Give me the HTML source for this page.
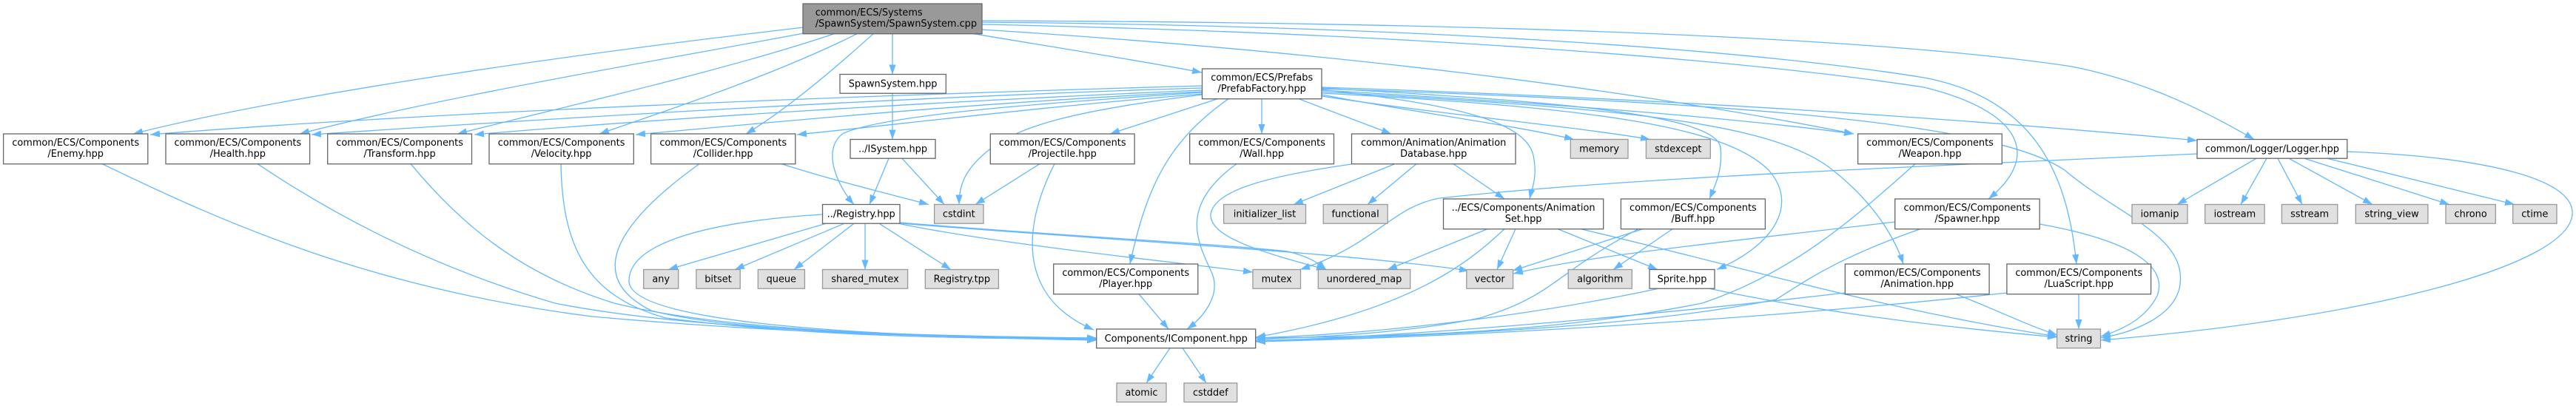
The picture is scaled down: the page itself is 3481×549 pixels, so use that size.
<!DOCTYPE html>
<html><head><meta charset="utf-8"><style>
html,body{margin:0;padding:0;background:#fff;}
svg{display:block;}
text{font-family:"DejaVu Sans","Liberation Sans",sans-serif;font-size:12.9px;fill:#000;}
.e{fill:none;stroke:#63b8ff;stroke-width:1.3;}
.w{fill:#fff;stroke:#666;stroke-width:1.3;}
.g{fill:#e0e0e0;stroke:#999;stroke-width:1.3;}
.r{fill:#999;stroke:#666;stroke-width:1.3;}
</style></head><body>
<svg width="3481" height="549" viewBox="0 0 3481 549" xmlns="http://www.w3.org/2000/svg">
<defs><marker id="a" markerWidth="14" markerHeight="10" refX="13" refY="4.6" orient="auto" markerUnits="userSpaceOnUse"><path d="M0,0 L13,4.6 L0,9.2 z" fill="#63b8ff"/></marker></defs>
<g class="e" marker-end="url(#a)">
<path d="M1206,45.7 L1206,100.5"/>
<path d="M1316,45.7 C1400,60 1530,80 1624,98"/>
<path d="M1086,37 C800,70 400,125 180,181"/>
<path d="M1086,45 C900,80 600,130 405,181"/>
<path d="M1127,45.7 C980,95 780,140 618,181"/>
<path d="M1158,45.7 C1060,95 930,140 810,181"/>
<path d="M1180,45.7 C1120,100 1060,150 1008,181"/>
<path d="M1327,28 C1900,30 2500,45 2800,90 C2900,110 2980,150 3046,188.5"/>
<path d="M1327,30 C1900,35 2350,65 2600,105 C2760,135 2795,250 2806,357"/>
<path d="M1327,33 C1900,45 2350,80 2600,118 C2730,150 2760,210 2687,269"/>
<path d="M1327,40 C1800,70 2200,120 2505,181"/>
<path d="M1624,116 C1200,128 600,150 203,182"/>
<path d="M1624,119 C1200,132 750,160 421,182"/>
<path d="M1624,122 C1250,138 900,160 641,182"/>
<path d="M1624,124 C1300,140 1050,165 859,182"/>
<path d="M1624,127 C1400,145 1200,170 1077,182"/>
<path d="M1624,125 C1400,140 1200,155 1140,180 C1110,200 1130,250 1154,276.5"/>
<path d="M1624,128 C1450,150 1380,170 1340,200 C1300,230 1296,255 1296,276.5"/>
<path d="M1645,133.7 L1500,181"/>
<path d="M1660,133.7 C1580,190 1550,250 1527,357"/>
<path d="M1705,133.7 L1705,181"/>
<path d="M1755,133.7 L1880,181"/>
<path d="M1786,121 C1950,140 2060,160 2072,210 C2078,240 2070,255 2067,269"/>
<path d="M1786,128 C1900,150 2050,170 2127,188.5"/>
<path d="M1786,130 C1950,155 2120,170 2230,188.5"/>
<path d="M1786,119 C2050,135 2320,150 2325,200 C2328,230 2318,250 2310,269"/>
<path d="M1786,122 C2100,140 2350,160 2505,181"/>
<path d="M1786,124 C2150,145 2380,160 2470,225 C2530,270 2560,320 2572,357"/>
<path d="M1786,126 C2150,145 2330,170 2390,230 C2430,275 2400,330 2320,364.5"/>
<path d="M1786,118 C2300,135 2700,165 2969,190"/>
<path d="M1786,120 C2400,140 2700,170 2790,230 C2860,290 2960,320 2945,390 C2935,430 2880,450 2839,457"/>
<path d="M3049,214.2 L2942,276.5"/>
<path d="M3063,214.2 L3028,276.5"/>
<path d="M3078,214.2 L3111,276.5"/>
<path d="M3093,214.2 L3206,276.5"/>
<path d="M3114,214.2 L3310,276.5"/>
<path d="M3145,214.2 L3398,276.5"/>
<path d="M3172,205 C3350,212 3480,240 3476,290 C3470,360 3200,430 2839,460"/>
<path d="M2969,208 C2600,225 2200,240 1945,268 C1880,280 1860,330 1757,364.5"/>
<path d="M1206,126.2 L1206,188.5"/>
<path d="M1201,214.2 L1175,276.5"/>
<path d="M1219,214.2 L1276,276.5"/>
<path d="M1056,221.6 C1130,245 1200,262 1255,276.5"/>
<path d="M945,221.6 C850,290 780,370 880,420 C1000,452 1300,455 1482,460"/>
<path d="M138,221.6 C300,300 500,390 800,428 C1100,455 1350,456 1482,458"/>
<path d="M348,221.6 C450,290 580,360 750,410 C950,450 1300,455 1482,457"/>
<path d="M555,221.6 C620,300 700,370 830,410 C1000,452 1300,456 1482,458"/>
<path d="M758,221.6 C760,330 790,400 900,430 C1100,456 1300,457 1482,459"/>
<path d="M1111,290 C950,300 850,330 850,380 C850,440 1200,455 1482,460"/>
<path d="M1116,302.2 L903,364.5"/>
<path d="M1141,302.2 L993,364.5"/>
<path d="M1154,302.2 L1073,364.5"/>
<path d="M1169,302.2 L1169,364.5"/>
<path d="M1188,302.2 L1285,364.5"/>
<path d="M1214,302.2 C1350,330 1550,350 1693,368"/>
<path d="M1216,301 C1450,320 1650,330 1740,340 C1765,346 1780,354 1792,364.5"/>
<path d="M1216,302 C1500,325 1800,340 1985,366"/>
<path d="M1405,221.6 L1318,276.5"/>
<path d="M1425,221.6 C1385,300 1370,400 1478,446"/>
<path d="M1539,397.6 L1579,445"/>
<path d="M1671,221.6 C1590,280 1620,330 1638,370 C1650,400 1625,430 1604,445"/>
<path d="M1885,221.6 L1748,276.5"/>
<path d="M1914,221.6 L1848,276.5"/>
<path d="M1964,221.6 L2033,269"/>
<path d="M1826,222 C1700,240 1640,260 1636,290 C1635,320 1700,340 1792,364.5"/>
<path d="M2010,309.6 L1875,364.5"/>
<path d="M2033,309.6 C1980,360 1900,420 1697,456"/>
<path d="M2048,309.6 L2023,364.5"/>
<path d="M2105,309.6 L2240,364.5"/>
<path d="M2136,309.6 C2350,360 2550,420 2780,455"/>
<path d="M2220,309.6 L2044,366"/>
<path d="M2214,309.6 C2100,370 2100,400 2000,430 C1900,450 1800,455 1697,459"/>
<path d="M2260,309.6 L2180,364.5"/>
<path d="M2561,300 C2350,325 2150,345 2045,370"/>
<path d="M2595,309.6 C2480,350 2440,380 2400,405 C2200,445 1900,455 1697,461"/>
<path d="M2756,303 C2880,325 2930,360 2915,400 C2900,430 2870,445 2839,455"/>
<path d="M2588,221.6 C2500,300 2420,370 2300,410 C2100,450 1900,455 1697,457"/>
<path d="M2493,396 C2200,430 1900,455 1697,461"/>
<path d="M2643,397.6 C2700,420 2740,440 2780,453"/>
<path d="M2809,397.6 L2809,445"/>
<path d="M2712,396 C2400,430 2000,455 1697,462"/>
<path d="M2241,390.2 C2100,420 1900,450 1697,457"/>
<path d="M2310,390.2 C2450,420 2600,440 2780,456"/>
<path d="M1581,470.7 L1549,518"/>
<path d="M1598,470.7 L1630,518"/>
</g>

<!-- Rank 0 -->
<rect class="r" x="1085" y="5" width="242" height="40.7"/>
<text x="1101.7" y="21">common/ECS/Systems</text>
<text x="1101.7" y="36">/SpawnSystem/SpawnSystem.cpp</text>

<!-- Rank 1 -->
<rect class="w" x="1135" y="100.5" width="143.3" height="25.7"/>
<text x="1206.6" y="117.6" text-anchor="middle">SpawnSystem.hpp</text>
<rect class="w" x="1624.5" y="93" width="161.5" height="40.7"/>
<text x="1705.2" y="109" text-anchor="middle">common/ECS/Prefabs</text>
<text x="1705.2" y="124" text-anchor="middle">/PrefabFactory.hpp</text>

<!-- Rank 2 two-line -->
<g text-anchor="middle">
<rect class="w" x="4.6" y="181" width="195.2" height="40.7"/>
<text x="102.2" y="197">common/ECS/Components</text><text x="102.2" y="212">/Enemy.hpp</text>
<rect class="w" x="224" y="181" width="194.6" height="40.7"/>
<text x="321.3" y="197">common/ECS/Components</text><text x="321.3" y="212">/Health.hpp</text>
<rect class="w" x="442.7" y="181" width="194.8" height="40.7"/>
<text x="540.1" y="197">common/ECS/Components</text><text x="540.1" y="212">/Transform.hpp</text>
<rect class="w" x="661" y="181" width="195.3" height="40.7"/>
<text x="758.6" y="197">common/ECS/Components</text><text x="758.6" y="212">/Velocity.hpp</text>
<rect class="w" x="879.6" y="181" width="195.2" height="40.7"/>
<text x="977.2" y="197">common/ECS/Components</text><text x="977.2" y="212">/Collider.hpp</text>
<rect class="w" x="1338.3" y="181" width="194.8" height="40.7"/>
<text x="1435.7" y="197">common/ECS/Components</text><text x="1435.7" y="212">/Projectile.hpp</text>
<rect class="w" x="1607.7" y="181" width="194.8" height="40.7"/>
<text x="1705.1" y="197">common/ECS/Components</text><text x="1705.1" y="212">/Wall.hpp</text>
<rect class="w" x="1826.5" y="181" width="221.5" height="40.7"/>
<text x="1937.2" y="197">common/Animation/Animation</text><text x="1937.2" y="212">Database.hpp</text>
<rect class="w" x="2510.6" y="181" width="194.7" height="40.7"/>
<text x="2608" y="197">common/ECS/Components</text><text x="2608" y="212">/Weapon.hpp</text>

<!-- Rank 2 single -->
<rect class="w" x="1149" y="188.5" width="115" height="25.7"/>
<text x="1206.5" y="205.6">../ISystem.hpp</text>
<rect class="g" x="2122.3" y="188.5" width="77.7" height="25.7"/>
<text x="2161.1" y="205.6">memory</text>
<rect class="g" x="2224.4" y="188.5" width="86.9" height="25.7"/>
<text x="2267.8" y="205.6">stdexcept</text>
<rect class="w" x="2969" y="188.5" width="202.8" height="25.7"/>
<text x="3070.4" y="205.6">common/Logger/Logger.hpp</text>

<!-- Rank 3 two-line -->
<rect class="w" x="1950.5" y="269" width="216.2" height="40.7"/>
<text x="2058.6" y="285">../ECS/Components/Animation</text><text x="2058.6" y="300">Set.hpp</text>
<rect class="w" x="2190.4" y="269" width="195" height="40.7"/>
<text x="2287.9" y="285">common/ECS/Components</text><text x="2287.9" y="300">/Buff.hpp</text>
<rect class="w" x="2560.7" y="269" width="195.5" height="40.7"/>
<text x="2658.4" y="285">common/ECS/Components</text><text x="2658.4" y="300">/Spawner.hpp</text>

<!-- Rank 3 single -->
<rect class="w" x="1111.5" y="276.5" width="104.5" height="25.7"/>
<text x="1163.7" y="293.6">../Registry.hpp</text>
<rect class="g" x="1262.6" y="276.5" width="66.4" height="25.7"/>
<text x="1295.8" y="293.6">cstdint</text>
<rect class="g" x="1653.6" y="276.5" width="110.9" height="25.7"/>
<text x="1709" y="293.6">initializer_list</text>
<rect class="g" x="1788.2" y="276.5" width="86.9" height="25.7"/>
<text x="1831.6" y="293.6">functional</text>
<rect class="g" x="2881" y="276.5" width="75" height="25.7"/>
<text x="2918.5" y="293.6">iomanip</text>
<rect class="g" x="2979.7" y="276.5" width="80.4" height="25.7"/>
<text x="3019.9" y="293.6">iostream</text>
<rect class="g" x="3083.4" y="276.5" width="75.4" height="25.7"/>
<text x="3121.1" y="293.6">sstream</text>
<rect class="g" x="3183.3" y="276.5" width="97.6" height="25.7"/>
<text x="3232.1" y="293.6">string_view</text>
<rect class="g" x="3305" y="276.5" width="67.3" height="25.7"/>
<text x="3338.6" y="293.6">chrono</text>
<rect class="g" x="3395.7" y="276.5" width="59.3" height="25.7"/>
<text x="3425.3" y="293.6">ctime</text>

<!-- Rank 4 two-line -->
<rect class="w" x="1423.7" y="357" width="195.1" height="40.7"/>
<text x="1521.2" y="373">common/ECS/Components</text><text x="1521.2" y="388">/Player.hpp</text>
<rect class="w" x="2493.3" y="357" width="194.8" height="40.7"/>
<text x="2590.7" y="373">common/ECS/Components</text><text x="2590.7" y="388">/Animation.hpp</text>
<rect class="w" x="2711.9" y="357" width="194.7" height="40.7"/>
<text x="2809.2" y="373">common/ECS/Components</text><text x="2809.2" y="388">/LuaScript.hpp</text>

<!-- Rank 4 single -->
<rect class="g" x="869.7" y="364.5" width="47" height="25.7"/>
<text x="893.2" y="381.6">any</text>
<rect class="g" x="940.9" y="364.5" width="59.3" height="25.7"/>
<text x="970.5" y="381.6">bitset</text>
<rect class="g" x="1024.3" y="364.5" width="63.1" height="25.7"/>
<text x="1055.8" y="381.6">queue</text>
<rect class="g" x="1111.5" y="364.5" width="115.1" height="25.7"/>
<text x="1169" y="381.6">shared_mutex</text>
<rect class="g" x="1250.3" y="364.5" width="99.1" height="25.7"/>
<text x="1299.8" y="381.6">Registry.tpp</text>
<rect class="g" x="1693" y="364.5" width="64.5" height="25.7"/>
<text x="1725.2" y="381.6">mutex</text>
<rect class="g" x="1781.3" y="364.5" width="124.4" height="25.7"/>
<text x="1843.5" y="381.6">unordered_map</text>
<rect class="g" x="1981.8" y="364.5" width="62.8" height="25.7"/>
<text x="2013.2" y="381.6">vector</text>
<rect class="g" x="2119.2" y="364.5" width="86.1" height="25.7"/>
<text x="2162.2" y="381.6">algorithm</text>
<rect class="w" x="2229" y="364.5" width="88" height="25.7"/>
<text x="2273" y="381.6">Sprite.hpp</text>

<!-- Rank 5 -->
<rect class="w" x="1481.7" y="445" width="215" height="25.7"/>
<text x="1589.2" y="462.1">Components/IComponent.hpp</text>
<rect class="g" x="2779.6" y="445" width="58.9" height="25.7"/>
<text x="2809" y="462.1">string</text>

<!-- Rank 6 -->
<rect class="g" x="1509" y="518" width="67" height="25.7"/>
<text x="1542.5" y="535.1">atomic</text>
<rect class="g" x="1600" y="518" width="71.7" height="25.7"/>
<text x="1635.8" y="535.1">cstddef</text>
</g>
</svg>
</body></html>
